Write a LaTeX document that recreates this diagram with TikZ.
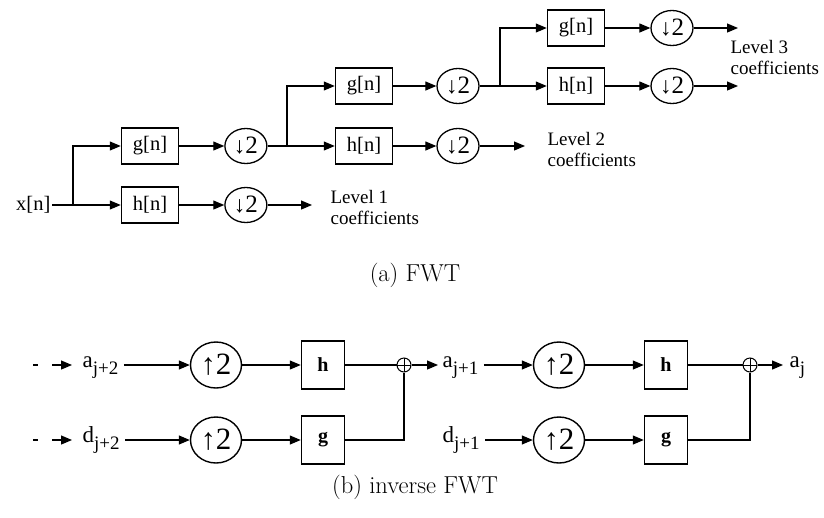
\documentclass[tikz,border=0pt]{standalone}
\usepackage{fontspec}
\newfontfamily\diafont{Liberation Serif}
\usetikzlibrary{arrows.meta}
\usetikzlibrary{positioning}
\usetikzlibrary{shapes.geometric}
\newcommand{\signame}[2]{#1\raisebox{-7pt}{\fontsize{19}{19}\selectfont #2}}
\newcommand{\downtwo}{{\fontsize{23}{23}\selectfont ↓}2}
\newcommand{\uptwo}{{\fontsize{30}{30}\selectfont ↑}2}

\begin{document}
\begin{tikzpicture}[x=1pt, y=-1pt, >={Triangle[length=11pt, width=9pt]},
	line width=1.2pt,
	filt box/.style={rectangle, draw, line width=1.5pt, minimum width=57pt, minimum height=36pt, inner sep=0pt, font=\diafont\fontsize{20.5}{20}\selectfont},
	down node/.style={ellipse, draw, line width=1.3pt, minimum width=42pt, minimum height=35pt, inner sep=0pt, font=\diafont\fontsize{25}{25}\selectfont},
	level text/.style={anchor=west, align=left, inner sep=0pt, font=\diafont\fontsize{19}{21}\selectfont},
	up node/.style={ellipse, draw, line width=1.4pt, minimum width=51pt, minimum height=46pt, inner sep=0pt, font=\diafont\fontsize{31}{31}\selectfont},
	coef box/.style={rectangle, draw, line width=1.5pt, minimum width=43pt, minimum height=48pt, inner sep=0pt, font=\diafont\bfseries\fontsize{20}{20}\selectfont},
	sig text/.style={inner sep=0pt, anchor=mid west, font=\diafont\fontsize{23}{23}\selectfont},
	add node/.style={circle, draw, line width=1pt, minimum size=14pt, inner sep=0pt,
		path picture={\draw (path picture bounding box.north) -- (path picture bounding box.south)
			(path picture bounding box.west) -- (path picture bounding box.east);}},
	caption/.style={font=\fontsize{24.5}{28}\selectfont},
]
\useasboundingbox (0,0) rectangle (824,517);
% forward transform
\node [anchor=east, inner sep=1pt, font=\diafont\fontsize{20.5}{20}\selectfont] (x) at (52,205) {x[n]};
\coordinate (s1) at (73,205);
\node [filt box] (g1) at (150,146) {g[n]};
\node [filt box] (h1) at (150,205) {h[n]};
\node [down node] (dg1) [right=45pt of g1] {\downtwo};
\node [down node] (dh1) [right=45pt of h1] {\downtwo};
\coordinate (e1) at (312,205);
\node [level text] (l1) at (330,207) {Level 1\\coefficients};
\coordinate (s2) at (287,146);
\node [filt box] (g2) at (364,86) {g[n]};
\node [filt box] (h2) at (364,146) {h[n]};
\node [down node] (dg2) at (458,86) {\downtwo};
\node [down node] (dh2) at (458,146) {\downtwo};
\coordinate (e2) at (525,146);
\node [level text] (l2) at (547,149) {Level 2\\coefficients};
\coordinate (s3) at (500,86);
\node [filt box] (g3) at (576,28) {g[n]};
\node [filt box] (h3) at (576,86) {h[n]};
\node [down node] (dg3) at (672,28) {\downtwo};
\node [down node] (dh3) at (672,86) {\downtwo};
\coordinate (e3) at (738,28);
\coordinate (e4) at (738,86);
\node [level text] (l3) at (730,57) {Level 3\\coefficients};
%
\draw (x) -- (s1);
\draw [->] (s1) |- (g1);
\draw [->] (s1) -- (h1);
\draw [->] (g1) -- (dg1);
\draw [->] (h1) -- (dh1);
\draw [->] (dh1) -- (e1);
\draw (dg1) -- (s2);
\draw [->] (s2) |- (g2);
\draw [->] (s2) -- (h2);
\draw [->] (g2) -- (dg2);
\draw [->] (h2) -- (dh2);
\draw [->] (dh2) -- (e2);
\draw (dg2) -- (s3);
\draw [->] (s3) |- (g3);
\draw [->] (s3) -- (h3);
\draw [->] (g3) -- (dg3);
\draw [->] (h3) -- (dh3);
\draw [->] (dg3) -- (e3);
\draw [->] (dh3) -- (e4);
\node [caption] (capa) at (415,275) {(a) FWT};
% inverse transform
\coordinate (ia) at (33,365);
\coordinate (ta) at (72,365);
\coordinate (id) at (33,440);
\coordinate (td) at (72,440);
\node [sig text] (a2) at (82,365) {\signame{a}{j+2}};
\node [sig text] (d2) at (82,440) {\signame{d}{j+2}};
\node [up node] (ua2) at (216,365) {\uptwo};
\node [up node] (ud2) at (216,440) {\uptwo};
\node [coef box] (hb2) at (323,365) {h};
\node [coef box] (gb2) at (323,440) {g};
\node [add node] (p1) at (404,365) {};
\node [sig text] (a1) at (442,365) {\signame{a}{j+1}};
\node [sig text] (d1) at (442,440) {\signame{d}{j+1}};
\node [up node] (ua1) at (559,365) {\uptwo};
\node [up node] (ud1) at (559,440) {\uptwo};
\node [coef box] (hb1) at (666,365) {h};
\node [coef box] (gb1) at (666,440) {g};
\node [add node] (p0) at (750,365) {};
\node [sig text] (a0) at (789,365) {\signame{a}{j}};
%
\draw [->, dash pattern=on 5pt off 14pt on 40pt] (ia) -- (ta);
\draw [->, dash pattern=on 5pt off 14pt on 40pt] (id) -- (td);
\draw [->] ([xshift=5pt]a2.mid east) -- (ua2);
\draw [->] ([xshift=5pt]d2.mid east) -- (ud2);
\draw [->] (ua2) -- (hb2);
\draw [->] (ud2) -- (gb2);
\draw (hb2) -- (p1);
\draw (gb2) -| (p1);
\draw [->] (p1) -- ([xshift=-4pt]a1.mid west);
\draw [->] ([xshift=5pt]a1.mid east) -- (ua1);
\draw [->] ([xshift=5pt]d1.mid east) -- (ud1);
\draw [->] (ua1) -- (hb1);
\draw [->] (ud1) -- (gb1);
\draw (hb1) -- (p0);
\draw (gb1) -| (p0);
\draw [->] (p0) -- ([xshift=-6pt]a0.mid west);
\node [caption] (capb) at (415,487) {(b) inverse FWT};
\end{tikzpicture}
\end{document}
